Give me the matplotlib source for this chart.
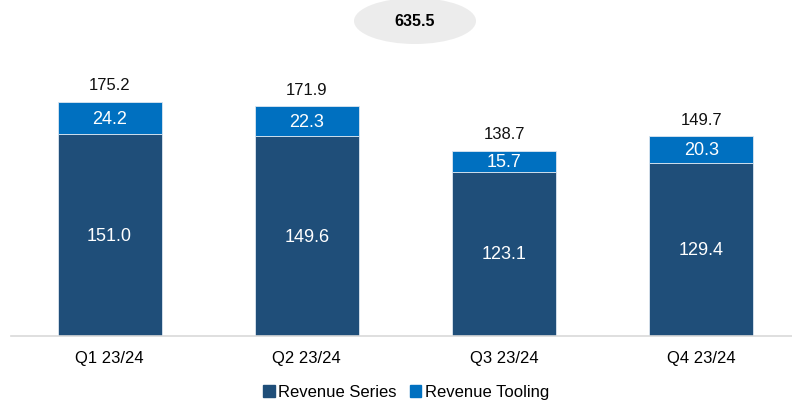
import matplotlib.pyplot as plt
from matplotlib.patches import Ellipse, Patch

plt.rcParams['font.family'] = ['Liberation Sans', 'DejaVu Sans']

quarters = ['Q1 23/24', 'Q2 23/24', 'Q3 23/24', 'Q4 23/24']
series = [151.0, 149.6, 123.1, 129.4]
tooling = [24.2, 22.3, 15.7, 20.3]
totals = [175.2, 171.9, 138.7, 149.7]
grand_total = 635.5

c_series = '#1F4E79'
c_tool = '#0070C0'

fig = plt.figure(figsize=(7.92, 4.02), dpi=100)
ax = fig.add_axes([11 / 792, 65 / 402, 781 / 792, 337 / 402])

x = list(range(len(quarters)))
ax.bar(x, series, width=0.527, color=c_series, edgecolor='#dce6f0', linewidth=0.6)
ax.bar(x, tooling, bottom=series, width=0.527, color=c_tool, edgecolor='#dce6f0', linewidth=0.6)

for i in x:
    ax.text(i, series[i] / 2, f'{series[i]:.1f}', ha='center', va='center', color='white', fontsize=13)
    ax.text(i, series[i] + tooling[i] / 2, f'{tooling[i]:.1f}', ha='center', va='center', color='white', fontsize=13)
    ax.annotate(f'{totals[i]:.1f}', (i, totals[i]), xytext=(0, 17), textcoords='offset pixels',
                ha='center', va='center', fontsize=12, color='#111111')

ax.set_xlim(-0.5, 3.46)
ax.set_ylim(0, 252.3)
ax.set_xticks(x)
ax.set_xticklabels(quarters, fontsize=12)
ax.tick_params(axis='x', length=0, pad=10)
ax.set_yticks([])
for s in ['top', 'right', 'left']:
    ax.spines[s].set_visible(False)
ax.spines['bottom'].set_color('#d9d9d9')
ax.spines['bottom'].set_linewidth(1.2)

# ellipse with the annual total
ell = Ellipse((415 / 792, 1 - 22 / 402), 122 / 792, 46 / 402, transform=fig.transFigure,
              facecolor='#ececec', edgecolor='none')
fig.patches.append(ell)
fig.text(415 / 792, 1 - 22 / 402, f'{grand_total:.1f}', ha='center', va='center',
         fontsize=11.5, fontweight='bold')

handles = [Patch(color=c_series, label='Revenue Series'), Patch(color=c_tool, label='Revenue Tooling')]
fig.legend(handles=handles, loc='center', bbox_to_anchor=(406 / 792, 1 - 393 / 402), ncol=2,
           frameon=False, fontsize=12, handlelength=0.7, handleheight=0.7, handletextpad=0.2,
           columnspacing=0.8)

fig.savefig('out.png', dpi=100)
